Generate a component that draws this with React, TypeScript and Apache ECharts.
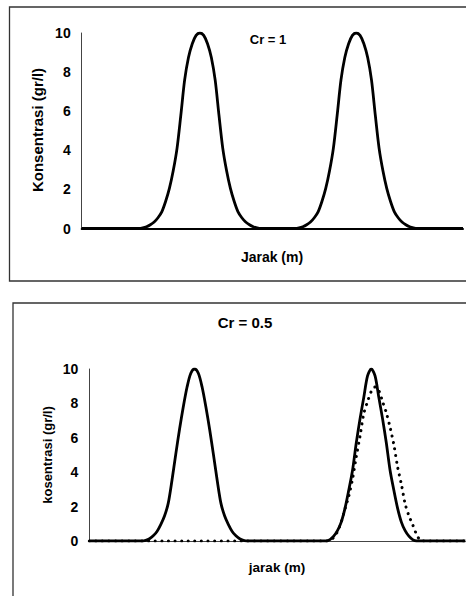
import { useEffect, useRef } from "react";
import * as echarts from "echarts";

// ---------- data ----------
const yMin = 0;
const yMax = 10;
const yStep = 2;

// Top panel (Cr = 1): x positions (m) and concentration (gr/l)
const topX = [
  0,
  15, 16, 17, 18, 19, 20, 21, 22, 23, 24, 25, 26, 27, 28, 29, 30, 31, 32, 33, 34, 35, 36, 37, 38, 39, 40, 41, 42, 43, 44, 45, 46, 47,
  56, 57, 58, 59, 60, 61, 62, 63, 64, 65, 66, 67, 68, 69, 70, 71, 72, 73, 74, 75, 76, 77, 78, 79, 80, 81, 82, 83, 84, 85, 86, 87, 88,
  100,
];
const topConc = [
  0,
  0, 0.03, 0.09, 0.19, 0.33, 0.55, 0.85, 1.38, 2.05, 2.95, 4.1, 5.8, 7.6, 8.75, 9.45, 9.88, 10, 9.88, 9.45, 8.75, 7.6, 5.8, 4.1, 2.95, 2.05, 1.38, 0.85, 0.55, 0.33, 0.19, 0.09, 0.03, 0,
  0, 0.03, 0.09, 0.19, 0.33, 0.55, 0.85, 1.38, 2.05, 2.95, 4.1, 5.8, 7.6, 8.75, 9.45, 9.88, 10, 9.88, 9.45, 8.75, 7.6, 5.8, 4.1, 2.95, 2.05, 1.38, 0.85, 0.55, 0.33, 0.19, 0.09, 0.03, 0,
  0,
];

// Bottom panel (Cr = 0.5): solid curve
const bottomX = [
  0,
  14, 15, 16, 17, 18, 19, 20, 21, 22, 23, 24, 25, 26, 27, 28, 29, 30, 31, 32, 33, 34, 35, 36, 37, 38, 39, 40, 41, 42,
  63, 64, 65, 66, 67, 68, 69, 70, 71, 72, 73, 74, 75, 76, 77, 78, 79, 80, 81, 82, 83, 84, 85, 86, 87,
  100,
];
const bottomSolid = [
  0,
  0, 0.04, 0.13, 0.3, 0.55, 0.95, 1.45, 2.2, 3.55, 5.05, 6.5, 7.8, 8.95, 9.75, 10, 9.75, 8.95, 7.8, 6.5, 5.05, 3.55, 2.2, 1.45, 0.95, 0.55, 0.3, 0.13, 0.04, 0,
  0, 0.08, 0.28, 0.6, 1.1, 1.9, 2.95, 4.1, 5.7, 7.1, 8.35, 9.6, 10, 9.6, 8.35, 7.1, 5.7, 4.1, 2.95, 1.9, 1.1, 0.6, 0.28, 0.08, 0,
  0,
];

// Bottom panel: dotted curve
const dottedX = [
  0,
  63, 64, 65, 66, 67, 68, 69, 70, 71, 72, 73, 74, 75, 76, 77, 78, 79, 80, 81, 82, 83, 84, 85, 86, 87, 88, 89,
  100,
];
const bottomDotted = [
  0,
  0, 0.05, 0.2, 0.55, 1.1, 1.85, 2.6, 3.6, 4.9, 6.1, 7.4, 8.1, 8.7, 8.95, 8.75, 8.1, 7.45, 6.6, 5.6, 4.3, 3.3, 2.16, 1.47, 0.95, 0.4, 0.05, 0,
  0,
];

const topTitle = "Cr = 1";
const topXName = "Jarak (m)";
const topYName = "Konsentrasi (gr/l)";
const bottomTitle = "Cr = 0.5";
const bottomXName = "jarak (m)";
const bottomYName = "kosentrasi (gr/l)";

const FONT = "'Liberation Sans', Arial, Helvetica, sans-serif";

const zip = (xs: number[], ys: number[]) => xs.map((x, i) => [x, ys[i]]);

export default function App() {
  const ref = useRef<HTMLDivElement>(null);

  useEffect(() => {
    if (!ref.current) return;
    const chart = echarts.init(ref.current, null, { renderer: "svg" });

    const yAxisCommon = {
      type: "value",
      min: yMin,
      max: yMax,
      interval: yStep,
      axisLine: { show: true, lineStyle: { color: "#444", width: 1 } },
      axisTick: { show: false },
      splitLine: { show: false },
      axisLabel: {
        color: "#000",
        fontSize: 14,
        fontWeight: "bold",
        fontFamily: FONT,
        margin: 11,
      },
    };
    const xAxisCommon = {
      type: "value",
      min: 0,
      max: 100,
      axisTick: { show: false },
      axisLabel: { show: false },
      splitLine: { show: false },
    };

    const textStyle = (size: number) => ({
      fill: "#000",
      fontSize: size,
      fontWeight: "bold",
      fontFamily: FONT,
      textAlign: "center",
      textVerticalAlign: "middle",
    });

    chart.setOption({
      animation: false,
      backgroundColor: "#fff",
      grid: [
        { left: 81.7, top: 33, width: 381.3, height: 195.5 },
        { left: 89.3, top: 369, width: 376, height: 172 },
      ],
      xAxis: [
        {
          ...xAxisCommon,
          gridIndex: 0,
          axisLine: { show: true, onZero: false, lineStyle: { color: "#000", width: 2 } },
        },
        {
          ...xAxisCommon,
          gridIndex: 1,
          axisLine: { show: true, onZero: false, lineStyle: { color: "#444", width: 1 } },
        },
      ],
      yAxis: [
        { ...yAxisCommon, gridIndex: 0 },
        { ...yAxisCommon, gridIndex: 1 },
      ],
      series: [
        {
          type: "line",
          name: "Cr = 1",
          xAxisIndex: 0,
          yAxisIndex: 0,
          data: zip(topX, topConc),
          showSymbol: false,
          smooth: 0.3,
          lineStyle: { color: "#000", width: 2.8 },
          z: 3,
        },
        {
          type: "line",
          name: "Cr = 0.5",
          xAxisIndex: 1,
          yAxisIndex: 1,
          data: zip(bottomX, bottomSolid),
          showSymbol: false,
          smooth: 0.3,
          lineStyle: { color: "#000", width: 2.8 },
          z: 3,
        },
        {
          type: "line",
          name: "dotted",
          xAxisIndex: 1,
          yAxisIndex: 1,
          data: zip(dottedX, bottomDotted),
          showSymbol: false,
          smooth: 0.3,
          lineStyle: { color: "#000", width: 3, type: [0.1, 6.5], cap: "round" },
          z: 4,
        },
      ],
      graphic: [
        {
          type: "rect",
          shape: { x: 9.5, y: 7, width: 480, height: 274 },
          style: { fill: "none", stroke: "#333", lineWidth: 1.3 },
          silent: true,
          z: -1,
        },
        {
          type: "rect",
          shape: { x: 13, y: 303, width: 480, height: 400 },
          style: { fill: "none", stroke: "#333", lineWidth: 1.3 },
          silent: true,
          z: -1,
        },
        { type: "text", x: 268, y: 39, style: { text: topTitle, ...textStyle(13) } },
        { type: "text", x: 272, y: 257, style: { text: topXName, ...textStyle(14) } },
        {
          type: "text",
          x: 37,
          y: 130,
          rotation: Math.PI / 2,
          style: { text: topYName, ...textStyle(15) },
        },
        { type: "text", x: 245, y: 322, style: { text: bottomTitle, ...textStyle(15) } },
        { type: "text", x: 277, y: 567, style: { text: bottomXName, ...textStyle(13.5) } },
        {
          type: "text",
          x: 47,
          y: 455,
          rotation: Math.PI / 2,
          style: { text: bottomYName, ...textStyle(13) },
        },
      ],
    });

    return () => chart.dispose();
  }, []);

  return (
    <div
      ref={ref}
      style={{ position: "absolute", left: 0, top: 0, width: 466, height: 596, background: "#fff" }}
    />
  );
}
